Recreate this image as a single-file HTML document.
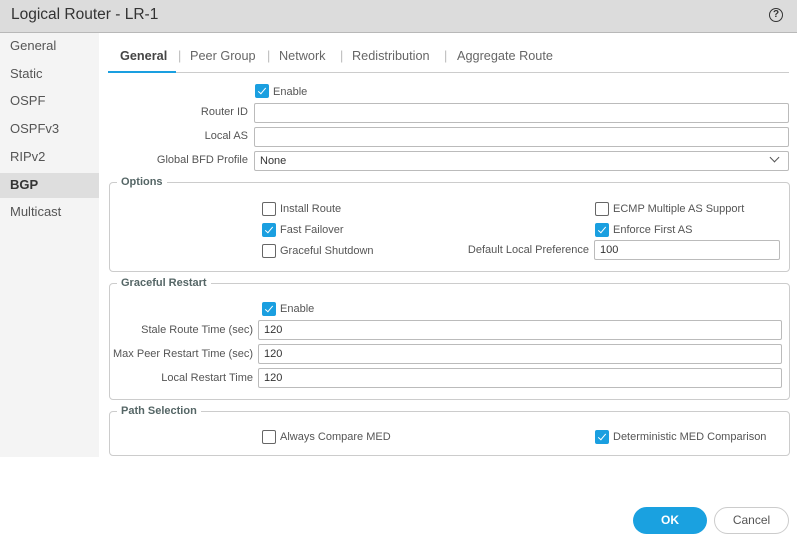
<!DOCTYPE html><html><head><style>
body{margin:0;width:797px;height:547px;background:#fff;font-family:"Liberation Sans",sans-serif;position:relative;overflow:hidden;color:#444}
.a{position:absolute}
.hd{left:0;top:0;width:797px;height:32px;background:#dcdcdc;border-bottom:1px solid #b8b8b8}
.sb{left:0;top:33px;width:99px;height:424px;background:#f4f4f4}
.si{position:absolute;left:10px;font-size:13px;color:#555}
.lbl{position:absolute;font-size:11px;color:#555;text-align:right}
.in{position:absolute;border:1px solid #bbb;border-radius:2px;height:18px;font-size:11px;line-height:18px;padding-left:5px;box-sizing:content-box;color:#333}
.cb{position:absolute;width:12px;height:12px;border:1px solid #666;border-radius:2px;background:#fff}
.cb.on{background:#1a9fe0;border-color:#1a9fe0}
.cb.on:after{content:"";position:absolute;left:4px;top:1px;width:3px;height:7px;border:solid #fff;border-width:0 1.3px 1.3px 0;transform:rotate(40deg)}
.ct{position:absolute;font-size:11px;color:#555;margin-top:1px}
.fs{position:absolute;border:1px solid #ccc;border-radius:4px}
.lg{position:absolute;background:#fff;font-size:11px;font-weight:bold;color:#566;padding:0 4px}
.tab{position:absolute;top:49px;font-size:12.7px;color:#666}
</style></head><body>
<div class="a hd"></div>
<div class="a" style="left:11px;top:6px;font-size:15.5px;color:#333">Logical Router - LR-1</div>
<div class="a" style="left:769px;top:8px;width:12px;height:12px;border:1.5px solid #333;border-radius:50%;font-size:10px;font-weight:bold;text-align:center;line-height:12px;color:#333">?</div>
<div class="a sb"></div>
<div class="a" style="left:0;top:173px;width:99px;height:25px;background:#dedede"></div>
<div class="si" style="top:38px">General</div>
<div class="si" style="top:66px">Static</div>
<div class="si" style="top:93px">OSPF</div>
<div class="si" style="top:121px">OSPFv3</div>
<div class="si" style="top:149px">RIPv2</div>
<div class="si" style="top:177px;font-weight:bold;color:#333">BGP</div>
<div class="si" style="top:204px">Multicast</div>
<div class="a" style="left:109px;top:72px;width:680px;height:1px;background:#ccc"></div>
<div class="a" style="left:108px;top:71px;width:68px;height:2px;background:#1a9fe0"></div>
<div class="tab" style="left:120px;font-weight:bold;color:#444">General</div>
<div class="tab" style="left:178px;color:#bbb">|</div>
<div class="tab" style="left:190px">Peer Group</div>
<div class="tab" style="left:267px;color:#bbb">|</div>
<div class="tab" style="left:279px">Network</div>
<div class="tab" style="left:340px;color:#bbb">|</div>
<div class="tab" style="left:352px">Redistribution</div>
<div class="tab" style="left:444px;color:#bbb">|</div>
<div class="tab" style="left:457px">Aggregate Route</div>

<div class="cb on" style="left:255px;top:84px"></div><div class="ct" style="left:273px;top:85px">Enable</div>
<div class="lbl" style="right:549px;top:106px">Router ID</div><div class="in" style="left:254px;top:103px;width:528px"></div>
<div class="lbl" style="right:549px;top:130px">Local AS</div><div class="in" style="left:254px;top:127px;width:528px"></div>
<div class="lbl" style="right:549px;top:154px">Global BFD Profile</div><div class="in" style="left:254px;top:151px;width:528px">None</div>
<div class="a" style="left:771px;top:154px;width:6px;height:6px;border:solid #555;border-width:0 1px 1px 0;transform:rotate(45deg)"></div>

<div class="fs" style="left:109px;top:182px;width:679px;height:88px"></div>
<div class="lg" style="left:117px;top:176px">Options</div>
<div class="cb" style="left:262px;top:202px"></div><div class="ct" style="left:280px;top:202px">Install Route</div>
<div class="cb on" style="left:262px;top:223px"></div><div class="ct" style="left:280px;top:223px">Fast Failover</div>
<div class="cb" style="left:262px;top:244px"></div><div class="ct" style="left:280px;top:244px">Graceful Shutdown</div>
<div class="cb" style="left:595px;top:202px"></div><div class="ct" style="left:613px;top:202px">ECMP Multiple AS Support</div>
<div class="cb on" style="left:595px;top:223px"></div><div class="ct" style="left:613px;top:223px">Enforce First AS</div>
<div class="lbl" style="right:208px;top:244px">Default Local Preference</div><div class="in" style="left:594px;top:240px;width:179px">100</div>

<div class="fs" style="left:109px;top:283px;width:679px;height:115px"></div>
<div class="lg" style="left:117px;top:277px">Graceful Restart</div>
<div class="cb on" style="left:262px;top:302px"></div><div class="ct" style="left:280px;top:302px">Enable</div>
<div class="lbl" style="right:544px;top:324px">Stale Route Time (sec)</div><div class="in" style="left:258px;top:320px;width:517px">120</div>
<div class="lbl" style="right:544px;top:348px">Max Peer Restart Time (sec)</div><div class="in" style="left:258px;top:344px;width:517px">120</div>
<div class="lbl" style="right:544px;top:372px">Local Restart Time</div><div class="in" style="left:258px;top:368px;width:517px">120</div>

<div class="fs" style="left:109px;top:411px;width:679px;height:43px"></div>
<div class="lg" style="left:117px;top:405px">Path Selection</div>
<div class="cb" style="left:262px;top:430px"></div><div class="ct" style="left:280px;top:430px">Always Compare MED</div>
<div class="cb on" style="left:595px;top:430px"></div><div class="ct" style="left:613px;top:430px">Deterministic MED Comparison</div>

<div class="a" style="left:633px;top:507px;width:74px;height:27px;border-radius:14px;background:#1aa1e0;color:#fff;font-weight:bold;font-size:12px;text-align:center;line-height:27px">OK</div>
<div class="a" style="left:714px;top:507px;width:73px;height:25px;border-radius:14px;border:1px solid #ccc;color:#555;font-size:12px;text-align:center;line-height:25px">Cancel</div>
</body></html>
